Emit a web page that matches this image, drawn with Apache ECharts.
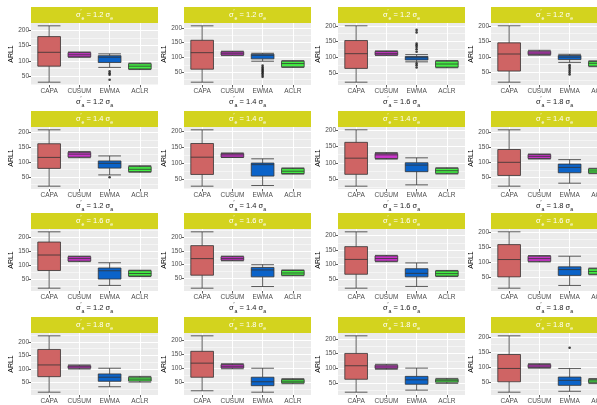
<!DOCTYPE html>
<html>
<head>
<meta charset="utf-8">
<script src="https://cdn.jsdelivr.net/npm/echarts@6/dist/echarts.min.js"></script>
<style>
html, body { margin: 0; padding: 0; background: #ffffff; }
#chart { width: 597px; height: 405px; }
</style>
</head>
<body>
<div id="chart"></div>
<script>
// Methods compared in every panel
const methods = ['CAPA', 'CUSUM', 'EWMA', 'ACLR'];
// Shift ratio shown in the strip (one per row) and under the axis (one per column)
const rowRatios = ['1.2', '1.4', '1.6', '1.8'];
const colRatios = ['1.2', '1.4', '1.6', '1.8'];

// Box statistics [min, Q1, median, Q3, max], panels in row-major order
const capaStats = [
  [31, 83, 128, 179, 214], [16, 60, 116, 158, 207], [20, 64, 111, 153, 200], [18, 54, 109, 145, 200],
  [19, 79, 116, 162, 209], [30, 66, 119, 161, 203], [29, 65, 114, 162, 200], [20, 56, 100, 143, 209],
  [17, 81, 137, 184, 221], [15, 62, 122, 169, 219], [19, 67, 118, 162, 213], [15, 52, 109, 158, 200],
  [15, 72, 115, 172, 222], [20, 68, 118, 160, 215], [18, 62, 108, 150, 210], [15, 50, 95, 142, 205]
];
const cusumStats = [
  [112, 113, 120, 127, 129], [106, 108, 114, 119, 121], [105, 107, 112, 118, 120], [105, 107, 112, 118, 121],
  [115, 117, 127, 133, 136], [118, 119, 126, 130, 132], [111, 113, 124, 128, 131], [111, 113, 120, 126, 128],
  [113, 115, 124, 131, 133], [114, 116, 122, 129, 131], [110, 112, 121, 130, 132], [101, 103, 112, 120, 122],
  [100, 103, 108, 112, 115], [98, 101, 107, 113, 116], [96, 99, 104, 110, 113], [96, 98, 103, 108, 111]
];
const ewmaStats = [
  [79, 95, 112, 117, 123], [87, 95, 107, 111, 114], [85, 91, 98, 102, 108], [82, 91, 99, 104, 108],
  [57, 80, 96, 104, 121], [32, 61, 96, 101, 114], [33, 73, 93, 100, 115], [30, 65, 83, 94, 109],
  [27, 50, 80, 90, 109], [21, 56, 81, 90, 100], [25, 58, 70, 86, 106], [24, 57, 76, 85, 120],
  [35, 55, 70, 82, 103], [15, 38, 52, 68, 100], [25, 45, 60, 72, 100], [18, 38, 55, 66, 95]
];
const aclrStats = [
  [72, 74, 83, 91, 93], [66, 68, 79, 87, 89], [66, 68, 78, 87, 89], [68, 70, 79, 85, 87],
  [66, 68, 76, 85, 88], [67, 69, 76, 84, 86], [66, 68, 76, 83, 85], [62, 64, 71, 78, 80],
  [59, 61, 70, 80, 82], [60, 62, 70, 79, 81], [59, 61, 69, 78, 80], [59, 61, 70, 79, 81],
  [52, 56, 63, 70, 73], [45, 48, 54, 60, 63], [48, 52, 57, 62, 65], [44, 47, 53, 58, 61]
];
// EWMA outlying runs per panel
const ewmaOutliers = [
  [66, 60, 55, 39], [72, 66, 61, 56, 51, 46, 40, 34],
  [187, 179, 143, 138, 132, 125, 117, 80, 74, 67], [73, 67, 61, 55, 49, 43],
  [49], [], [], [],
  [], [], [], [],
  [], [], [], [165]
];

// Tick values on the ARL axis
const yMajorTicks = [50, 100, 150, 200];
const yMinorTicks = [25, 75, 125, 175, 225];

const boxColors = ['#CF6464', '#C935C9', '#0B63C9', '#44EE44'];
const FONT = 'Liberation Sans, Arial, sans-serif';

// Panel geometry
const colLeft = [31, 184, 338, 491];
const rowTop = [7, 111, 213, 317];
const stripH = 16, panelW = 127, panelH = 62;
// discrete scale padding: 0.6 units on each side of 4 categories
const inset = panelW * 0.1 / 4.2;

function sigmaRich(ratio, sub, size, color) {
  return {
    text: '{b|σ}{sup|\u2032}{sub|' + sub + '}{b| = ' + ratio + ' σ}{sub|' + sub + '}',
    rich: {
      b: { fontSize: size, fontFamily: FONT, color: color, fill: color, lineHeight: 12, verticalAlign: 'middle' },
      sup: { fontSize: size * 0.7, fontFamily: FONT, color: color, fill: color, lineHeight: 12, verticalAlign: 'top' },
      sub: { fontSize: size * 0.7, fontFamily: FONT, color: color, fill: color, lineHeight: 12, verticalAlign: 'bottom' }
    }
  };
}

const grid = [], xAxis = [], yAxis = [], series = [], graphic = [];

for (let r = 0; r < 4; r++) {
  for (let c = 0; c < 4; c++) {
    const p = r * 4 + c;
    const stats = [capaStats[p], cusumStats[p], ewmaStats[p], aclrStats[p]];
    const all = stats.flat().concat(ewmaOutliers[p]);
    const lo = Math.min.apply(null, all), hi = Math.max.apply(null, all);
    const pad = (hi - lo) * 0.05;
    const yMin = lo - pad, yMax = hi + pad;
    const top = rowTop[r] + stripH;

    // background panel and data area
    grid.push({ left: colLeft[c], top: top, width: panelW, height: panelH, show: true,
      backgroundColor: '#EBEBEB', borderWidth: 0, containLabel: false, outerBoundsMode: 'none' });
    grid.push({ left: colLeft[c] + inset, top: top, width: panelW - 2 * inset, height: panelH,
      containLabel: false, outerBoundsMode: 'none' });

    xAxis.push({
      gridIndex: 2 * p, type: 'value', min: 0.4, max: 4.6,
      axisLine: { show: false }, axisLabel: { show: false },
      axisTick: { show: false, customValues: [1, 2, 3, 4] },
      splitLine: { show: true, lineStyle: { color: '#FFFFFF', width: 1 } }
    });
    const xName = sigmaRich(colRatios[c], 'a', 7.5, '#1A1A1A');
    xAxis.push({
      gridIndex: 2 * p + 1, type: 'category', data: methods,
      axisLine: { show: false },
      axisTick: { show: true, alignWithLabel: true, interval: 0, length: 2.5, lineStyle: { color: '#333333', width: 0.8 } },
      axisLabel: { interval: 0, hideOverlap: false, fontSize: 6.5, color: '#4D4D4D', margin: 3, fontFamily: FONT },
      splitLine: { show: false },
      name: xName.text, nameLocation: 'middle', nameGap: 10,
      nameTextStyle: { rich: xName.rich, fontFamily: FONT }
    });

    yAxis.push({
      gridIndex: 2 * p, type: 'value', min: yMin, max: yMax,
      axisLine: { show: false },
      axisTick: { show: true, length: 2.5, customValues: yMajorTicks, lineStyle: { color: '#333333', width: 0.8 } },
      axisLabel: { customValues: yMajorTicks, fontSize: 6.5, color: '#4D4D4D', margin: 2, fontFamily: FONT },
      splitLine: { show: true, lineStyle: { color: '#FFFFFF', width: 1 } },
      name: 'ARL1', nameLocation: 'middle', nameGap: 14, nameRotate: 90,
      nameTextStyle: { fontSize: 7, color: '#000000', fontFamily: FONT }
    });
    yAxis.push({
      gridIndex: 2 * p, type: 'value', min: yMin, max: yMax, position: 'left',
      axisLine: { show: false }, axisLabel: { show: false },
      axisTick: { show: false, customValues: yMinorTicks.filter(v => v > yMin && v < yMax) },
      splitLine: { show: true, lineStyle: { color: '#FFFFFF', width: 0.5 } }
    });
    yAxis.push({ gridIndex: 2 * p + 1, type: 'value', min: yMin, max: yMax, show: false });

    series.push({
      type: 'boxplot', xAxisIndex: 2 * p + 1, yAxisIndex: 3 * p + 2,
      boxWidth: ['75%', '75%'],
      itemStyle: { borderColor: '#333333', borderWidth: 0.8 },
      emphasis: { disabled: true },
      data: stats.map((s, i) => ({ value: s, itemStyle: { color: boxColors[i] } }))
    });
    series.push({
      type: 'scatter', xAxisIndex: 2 * p + 1, yAxisIndex: 3 * p + 2,
      symbol: 'circle', symbolSize: 2.6,
      itemStyle: { color: '#111111' },
      emphasis: { disabled: true },
      data: ewmaOutliers[p].map(v => ['EWMA', v])
    });

    // facet strip
    const strip = sigmaRich(rowRatios[r], 'e', 7.5, '#FFFFFF');
    graphic.push({
      type: 'group', left: colLeft[c], top: rowTop[r],
      children: [
        { type: 'rect', shape: { x: 0, y: 0, width: panelW, height: stripH }, style: { fill: '#D3D31E' } },
        { type: 'text', x: panelW / 2, y: stripH / 2,
          style: { text: strip.text, rich: strip.rich, align: 'center', verticalAlign: 'middle',
                   fill: '#FFFFFF', fontSize: 7.5, fontFamily: FONT } }
      ]
    });
  }
}

const chart = echarts.init(document.getElementById('chart'), null, { renderer: 'canvas' });
chart.setOption({
  animation: false,
  backgroundColor: '#FFFFFF',
  grid: grid, xAxis: xAxis, yAxis: yAxis, series: series, graphic: graphic
});
</script>
</body>
</html>
